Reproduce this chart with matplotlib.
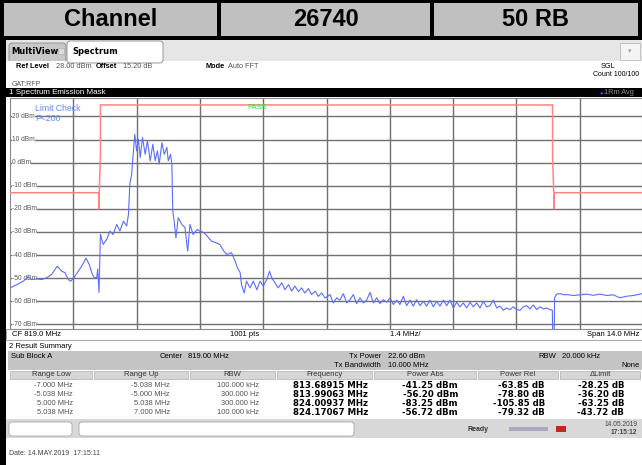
import numpy as np
import matplotlib
matplotlib.use("Agg")
import matplotlib.pyplot as plt
from matplotlib.patches import Rectangle, FancyBboxPatch

plt.rcParams['font.family'] = ['Liberation Sans', 'DejaVu Sans']

# ---- data ----
center_mhz = 819.0
span_mhz = 14.0
ref_level = 28.0

# trace: offset from centre (MHz), level (dBm)
trace_off = [-7.000, -6.852, -6.706, -6.595, -6.520, -6.409, -6.299, -6.188, -6.078, -6.005,
             -5.954, -5.857, -5.784, -5.711, -5.658, -5.584, -5.512, -5.414, -5.319, -5.246,
             -5.193, -5.136, -5.083, -5.060, -5.031, -5.000, -4.94, -4.86, -4.79, -4.72,
             -4.64, -4.57, -4.49, -4.42, -4.38, -4.35, -4.31, -4.27, -4.24, -4.20,
             -4.16, -4.12, -4.07, -4.01, -3.96, -3.90, -3.84, -3.79, -3.74, -3.70,
             -3.64, -3.59, -3.53, -3.50, -3.45, -3.42, -3.40, -3.37, -3.33, -3.28,
             -3.20, -3.13, -3.07, -3.02, -2.95, -2.86, -2.80, -2.71, -2.64, -2.54,
             -2.44, -2.36, -2.27, -2.21, -2.10, -2.02, -1.97, -1.91, -1.88, -1.82,
             -1.77, -1.69, -1.62, -1.54, -1.47, -1.40, -1.32, -1.26, -1.21, -1.14,
             -1.07, -0.99, -0.92, -0.84, -0.77, -0.70, -0.62, -0.55, -0.48, -0.40,
             -0.33, -0.25, -0.18, -0.11, -0.03, 0.077, 0.151, 0.225, 0.298, 0.372,
             0.446, 0.520, 0.593, 0.667, 0.741, 0.815, 0.888, 0.962, 1.036, 1.109,
             1.183, 1.257, 1.331, 1.404, 1.478, 1.552, 1.625, 1.699, 1.773, 1.847,
             1.920, 1.994, 2.068, 2.141, 2.215, 2.289, 2.363, 2.436, 2.510, 2.584,
             2.657, 2.731, 2.805, 2.879, 2.952, 3.026, 3.100, 3.174, 3.247, 3.321,
             3.395, 3.468, 3.542, 3.616, 3.690, 3.763, 3.837, 3.911, 3.985, 4.058,
             4.132, 4.206, 4.280, 4.353, 4.427, 4.501, 4.574, 4.648, 4.722, 4.796,
             4.869, 4.943, 4.995, 5.009, 5.030, 5.045, 5.09, 5.17, 5.25, 5.31,
             5.46, 5.61, 5.75, 5.90, 6.05, 6.20, 6.34, 6.49, 6.64, 6.79, 6.98]
trace_dbm = [-54.2, -52.8, -51.3, -49.4, -50.6, -50.3, -50.6, -49.8, -48.4, -46.2,
             -44.8, -47.0, -47.6, -50.6, -51.3, -49.8, -47.6, -44.8, -41.3, -44.1,
             -47.6, -49.8, -49.8, -46.0, -56.2, -31.0, -35.4, -33.2, -29.6, -31.1,
             -26.7, -29.6, -25.3, -27.4, -22.4, -9.4, -5.0, 5.1, 12.3, 5.1,
             10.2, 2.2, 10.9, 3.6, 9.5, 0.8, 8.0, 0.8, 5.1, -0.6,
             8.7, 3.6, 6.6, 0.8, 3.6, -0.6, -21.0, -25.3, -32.5, -23.8,
             -26.7, -28.1, -38.3, -26.7, -31.1, -28.9, -29.6, -30.3, -31.8, -34.0,
             -34.7, -35.4, -38.3, -39.7, -39.0, -42.6, -45.5, -47.6, -52.8, -56.4,
             -51.3, -54.2, -51.3, -55.0, -51.3, -53.4, -50.6, -47.0, -49.9, -52.0,
             -54.2, -52.0, -55.0, -52.8, -55.6, -53.4, -55.8, -54.2, -56.4, -54.5,
             -57.1, -55.6, -57.9, -56.4, -58.6, -57.1, -60.7, -58.5, -59.5, -56.7,
             -60.7, -59.3, -57.1, -61.0, -58.5, -60.7, -59.5, -56.1, -60.7, -58.5,
             -61.0, -59.3, -60.4, -58.5, -61.4, -59.5, -61.4, -57.8, -61.9, -59.5,
             -62.1, -59.3, -61.9, -60.0, -62.1, -59.5, -62.4, -60.0, -62.1, -59.5,
             -61.9, -59.5, -62.9, -60.4, -62.4, -60.7, -62.9, -60.4, -62.4, -60.7,
             -62.9, -60.0, -62.4, -61.9, -59.5, -62.9, -62.1, -63.9, -62.9, -63.6,
             -62.4, -63.6, -63.9, -62.4, -61.9, -63.3, -61.6, -63.6, -62.4, -63.3,
             -62.9, -63.6, -63.9, -83.25, -83.0, -58.5, -56.9, -56.7, -57.2, -57.1,
             -57.5, -57.2, -56.9, -57.4, -56.9, -57.5, -57.2, -58.5, -57.8, -57.5, -56.7]

# limit line (mask)
mask_off = [-7.0, -5.038, -5.038, -5.0, -5.0, 5.0, 5.0, 5.038, 5.038, 7.0]
mask_dbm = [-13, -13, -20, 2.7, 25, 25, 2.7, -20, -13, -13]

ylevels = [20, 10, 0, -10, -20, -30, -40, -50, -60, -70]

# result summary table
col_names = ['Range Low', 'Range Up', 'RBW', 'Frequency', 'Power Abs', 'Power Rel', '\u0394Limit']
range_low = ['-7.000 MHz', '-5.038 MHz', '5.000 MHz', '5.038 MHz']
range_up = ['-5.038 MHz', '-5.000 MHz', '5.038 MHz', '7.000 MHz']
rbw = ['100.000 kHz', '300.000 Hz', '300.000 Hz', '100.000 kHz']
freq = ['813.68915 MHz', '813.99063 MHz', '824.00937 MHz', '824.17067 MHz']
power_abs = ['-41.25 dBm', '-56.20 dBm', '-83.25 dBm', '-56.72 dBm']
power_rel = ['-63.85 dB', '-78.80 dB', '-105.85 dB', '-79.32 dB']
delta_limit = ['-28.25 dB', '-36.20 dB', '-63.25 dB', '-43.72 dB']

W, H = 642, 465
fig = plt.figure(figsize=(W / 100, H / 100), dpi=100)
fig.patch.set_facecolor('white')

# background layer in pixel coords
bg = fig.add_axes([0, 0, 1, 1])
bg.set_xlim(0, W)
bg.set_ylim(H, 0)
bg.axis('off')


def box(x0, y0, x1, y1, fc, ec='none', lw=0.8, z=1):
    bg.add_patch(Rectangle((x0, y0), x1 - x0, y1 - y0, fc=fc, ec=ec, lw=lw, zorder=z))


def txt(x, y, s, size=5.5, ha='left', color='black', weight='normal', **kw):
    bg.text(x, y, s, fontsize=size, ha=ha, va='center', color=color, weight=weight, zorder=5, **kw)


# header row
box(0, 0, W, 40, 'black')
for x0, x1, label in [(4, 217, 'Channel'), (221, 430, '26740'), (434, 638, '50 RB')]:
    box(x0, 3, x1, 36, '#c0c0c0', z=2)
    txt((x0 + x1) / 2, 19.5, label, size=17, ha='center', weight='bold')

# left black frame
box(0, 0, 6, H, 'black')

# tab row
box(6, 40, W, 61, '#e6e6e6')
bg.add_patch(FancyBboxPatch((9, 43), 57, 20, boxstyle='round,pad=0,rounding_size=3',
                            fc='#c8c8c8', ec='#8a8a8a', lw=0.6, zorder=2))
bg.add_patch(FancyBboxPatch((67, 41), 96, 22, boxstyle='round,pad=0,rounding_size=3',
                            fc='white', ec='#8a8a8a', lw=0.6, zorder=3))
box(6, 61, W, 88, 'white', z=2)
box(620, 43, 640, 60, '#f4f4f4', ec='#b0b0b0', lw=0.5, z=2)
txt(630, 51.5, '\u25be', size=5, ha='center', color='#a0a0a0')
txt(11, 51, 'MultiView', size=6, weight='bold', family='DejaVu Sans')
txt(72, 51, 'Spectrum', size=6, weight='bold', family='DejaVu Sans')
box(58, 48, 64, 54, '#dcdcdc', ec='#a8a8a8', lw=0.4, z=4)

# info lines
txt(16, 66, 'Ref Level', size=5.3, weight='bold')
txt(56, 66, '28.00 dBm', size=5.3, color='#555555')
txt(96, 66, 'Offset', size=5.3, weight='bold')
txt(123, 66, '15.20 dB', size=5.3, color='#555555')
txt(205, 66, 'Mode', size=5.3, weight='bold')
txt(228, 66, 'Auto FFT', size=5.3, color='#555555')
txt(601, 66, 'SGL', size=5.3)
txt(639, 75, 'Count 100/100', size=5.0, ha='right')
txt(12, 84, 'GAT:RFP', size=5, color='#555555')

# title bar of the trace window
box(6, 88, W, 97.5, 'black', z=2)
txt(9, 92.8, '1 Spectrum Emission Mask', size=5.8, color='white')
txt(599, 92.8, '\u25cf', size=4, color='#3050ff')
txt(604, 92.8, '1Rm Avg', size=5.3, color='#909090')

# bottom bar of the diagram
box(6, 329, W, 340, 'white', ec='#999999', lw=0.6, z=2)
txt(12, 334.5, 'CF 819.0 MHz', size=5.5)
txt(230, 334.5, '1001 pts', size=5.5)
txt(390, 334.5, '1.4 MHz/', size=5.5)
txt(639, 334.5, 'Span 14.0 MHz', size=5.5, ha='right')

# result summary
box(6, 341, W, 419, 'white', z=2)
txt(9, 346.5, '2 Result Summary', size=5.5)
box(8, 351, W, 370, '#c4c4c4', z=3)
txt(11, 356, 'Sub Block A', size=5.5)
txt(183, 356, 'Center', size=5.5, ha='right')
txt(188, 356, '819.00 MHz', size=5.5)
txt(381, 356, 'Tx Power', size=5.5, ha='right')
txt(388, 356, '22.60 dBm', size=5.5)
txt(381, 365, 'Tx Bandwidth', size=5.5, ha='right')
txt(388, 365, '10.000 MHz', size=5.5)
txt(556, 356, 'RBW', size=5.5, ha='right')
txt(562, 356, '20.000 kHz', size=5.5)
txt(640, 365, 'None', size=5.5, ha='right')

col_edges = [9, 93, 189, 276, 373, 477, 559, 641]
for i, name in enumerate(col_names):
    box(col_edges[i] + 1, 370.5, col_edges[i + 1] - 1, 378.5, '#d6d6d6', ec='#a0a0a0', lw=0.4, z=3)
    txt((col_edges[i] + col_edges[i + 1]) / 2, 374.6, name, size=5.5, ha='center', color='#333333')

row_y = [385, 394, 403, 412]
for k, y in enumerate(row_y):
    txt(73, y, range_low[k], size=5.4, ha='right', color='#555555')
    txt(170, y, range_up[k], size=5.4, ha='right', color='#555555')
    txt(259, y, rbw[k], size=5.4, ha='right', color='#555555')
    txt(368, y, freq[k], size=6.2, ha='right', weight='bold', family='DejaVu Sans')
    txt(458, y, power_abs[k], size=6.2, ha='right', weight='bold', family='DejaVu Sans')
    txt(545, y, power_rel[k], size=6.2, ha='right', weight='bold', family='DejaVu Sans')
    txt(624, y, delta_limit[k], size=6.2, ha='right', weight='bold', family='DejaVu Sans')
box(8, 417.5, W, 418.3, '#8a8a8a', z=3)

# status bar
box(6, 419, W, 438, '#d8d8d8', z=2)
bg.add_patch(FancyBboxPatch((9, 422), 63, 14, boxstyle='round,pad=0,rounding_size=3',
                            fc='white', ec='#9a9a9a', lw=0.5, zorder=3))
bg.add_patch(FancyBboxPatch((79, 422), 275, 14, boxstyle='round,pad=0,rounding_size=3',
                            fc='white', ec='#9a9a9a', lw=0.5, zorder=3))
txt(467, 429, 'Ready', size=5, weight='bold', color='#333333')
box(509, 426.5, 548, 431, '#a8a8c0', z=3)
box(556, 426, 566, 432, '#d02020', z=3)
txt(621, 424.5, '14.05.2019', size=4.8, ha='center', color='#444444')
txt(624, 432.5, '17:15:12', size=4.8, ha='center', color='#444444', weight='bold')
box(6, 438, W, H, 'white', z=2)
txt(9, 453, 'Date: 14.MAY.2019  17:15:11', size=5, color='#444444')

# ---- spectrum diagram ----
ax = fig.add_axes([10 / W, (H - 329) / H, 632 / W, 231 / H], zorder=4)
f_lo = center_mhz - span_mhz / 2
ax.set_xlim(f_lo, f_lo + 632 / 63.3 * 1.4)
ax.set_ylim(-72, ref_level)
ax.set_facecolor('white')

grid_f = f_lo + 1.4 * np.arange(1, 10)
for g in grid_f:
    ax.axvline(g, color='#707070', lw=1.0, zorder=1)
for lv in ylevels:
    ax.axhline(lv, color='#707070', lw=1.0, zorder=1)
    ax.text(f_lo + 0.045, lv, '%d dBm' % lv, fontsize=4.8, color='#555555', va='center',
            ha='left', zorder=2, bbox=dict(fc='white', ec='none', pad=0.2))

ax.plot(center_mhz + np.array(mask_off), mask_dbm, color='#ff8484', lw=1.1, zorder=3)
ax.plot(center_mhz + np.array(trace_off), trace_dbm, color='#5a6eff', lw=0.8, zorder=4)

ax.text(0.04, 0.975, 'Limit Check', transform=ax.transAxes, fontsize=6.2, color='#5b8cff', va='top')
ax.text(0.04, 0.93, 'P<200', transform=ax.transAxes, fontsize=6.2, color='#5b8cff', va='top')
ax.text(0.375, 0.975, 'PASS', transform=ax.transAxes, fontsize=5.5, color='#33dd33', va='top')

ax.set_xticks([])
ax.set_yticks([])
for s in ax.spines.values():
    s.set_color('#8a8a8a')
    s.set_linewidth(0.8)

fig.savefig('out.png', dpi=100)
